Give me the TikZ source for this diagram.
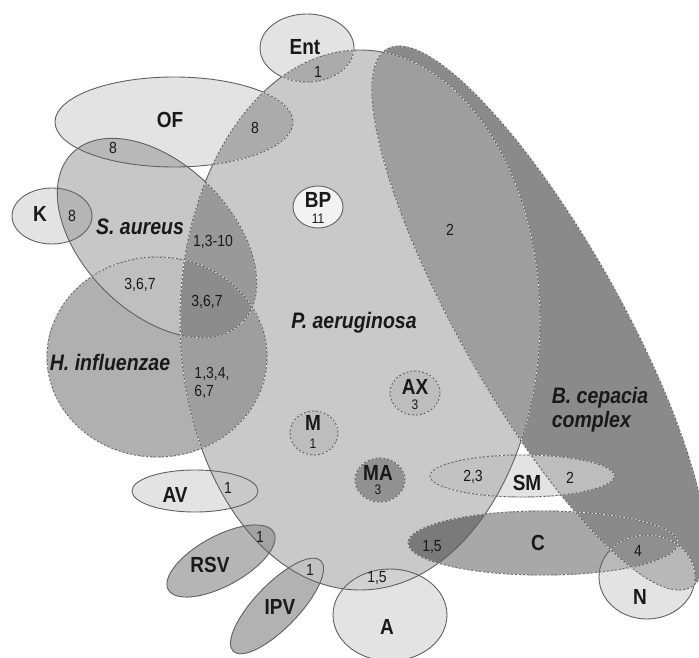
\documentclass[tikz,border=0pt]{standalone}
\usepackage{fontspec}
\setmainfont{Liberation Sans}
% outlines of the sets, in pixel units (y grows downwards)
\newcommand\shPaer{(360,320) ellipse [x radius=180, y radius=270]}
\newcommand\shBcep{(539,318) ellipse [x radius=91, y radius=272, xslant=-0.515]}
\newcommand\shSaur{(157,238) ellipse [x radius=120, y radius=74, rotate=-45]}
\newcommand\shHinf{(157,357) ellipse [x radius=110, y radius=100]}
\newcommand\shEnt{(307,48) ellipse [x radius=47, y radius=34]}
\newcommand\shOF{(174,122) ellipse [x radius=119, y radius=45]}
\newcommand\shK{(52,216) ellipse [x radius=40, y radius=28]}
\newcommand\shAV{(195,491) ellipse [x radius=63, y radius=21]}
\newcommand\shRSV{(221,561) ellipse [x radius=60, y radius=25, rotate=28.5]}
\newcommand\shIPV{(277,606) ellipse [x radius=63, y radius=22, rotate=46]}
\newcommand\shA{(390,615) ellipse [x radius=57, y radius=46]}
\newcommand\shSM{(522,476) ellipse [x radius=92, y radius=21]}
\newcommand\shC{(543,543) ellipse [x radius=135, y radius=32]}
\newcommand\shN{(647,577) ellipse [x radius=48, y radius=42]}
\newcommand\shBP{(318,207) ellipse [x radius=25, y radius=21]}
\newcommand\shAX{(415,393) ellipse [x radius=25, y radius=22]}
\newcommand\shM{(314,433) ellipse [x radius=24, y radius=22]}
\newcommand\shMA{(380,480) ellipse [x radius=25, y radius=22]}
\begin{document}
\begin{tikzpicture}[x=1pt,y=-1pt,
edge/.style={draw=black!62,line width=0.9pt},
seam/.style={draw=white,line width=0.6pt,dash pattern=on 2pt off 2pt},
txt/.style={inner sep=0pt,text=black!90,yscale=1.15,transform shape},
lbl/.style={txt,font=\bfseries\fontsize{19}{19}\selectfont},
num/.style={txt,font=\fontsize{14}{16}\selectfont},
sub/.style={txt,font=\fontsize{12}{12}\selectfont},
spc/.style={txt,font=\bfseries\itshape\fontsize{19.5}{21}\selectfont},
]
\path[fill=white,use as bounding box] (0,0) rectangle (699,658);
% single sets
\fill[black!21]\shPaer;
\fill[black!46]\shBcep;
\fill[black!31]\shHinf;
\fill[black!22]\shSaur;
\foreach \s in {\shEnt,\shOF,\shK,\shAV,\shA,\shSM,\shN}{\fill[black!11]\s;}
\fill[black!29]\shRSV;
\fill[black!30]\shIPV;
\fill[black!34]\shC;
% overlaps
\begin{scope}\clip\shSaur;
\fill[black!28]\shOF;
\fill[black!29]\shK;
\fill[black!25]\shHinf;
\end{scope}
\begin{scope}\clip\shC;\fill[black!27]\shN;\end{scope}
\begin{scope}\clip\shBcep;
\fill[black!26]\shSM;
\fill[black!46]\shC;
\fill[black!28]\shN;
\begin{scope}\clip\shC;\fill[black!44]\shN;\end{scope}
\end{scope}
\begin{scope}\clip\shPaer;
\fill[black!38]\shBcep;
\fill[black!33]\shEnt;
\fill[black!33]\shOF;
\fill[black!40]\shSaur;
\fill[black!38]\shHinf;
\fill[black!21]\shAV;
\fill[black!36]\shRSV;
\fill[black!24]\shIPV;
\fill[black!18]\shA;
\fill[black!24]\shSM;
\fill[black!52]\shC;
\begin{scope}\clip\shSaur;\fill[black!45]\shHinf;\end{scope}
\end{scope}
\fill[black!5]\shBP;
\fill[black!26]\shAX;
\fill[black!26]\shM;
\fill[black!43]\shMA;
% outlines
\foreach \s in {\shPaer,\shBcep,\shHinf,\shSaur,\shEnt,\shOF,\shK,\shAV,\shRSV,\shIPV,\shA,\shSM,\shC,\shN,\shBP,\shAX,\shM,\shMA}{\draw[edge]\s;}
\foreach \s in {\shBcep,\shHinf,\shSM,\shC,\shAX,\shM,\shMA}{\draw[seam]\s;}
\begin{scope}\clip\shPaer;\foreach \s in {\shEnt,\shOF,\shSaur}{\draw[seam]\s;}\end{scope}
\foreach \s in {\shEnt,\shOF,\shSaur,\shHinf,\shBcep}{\begin{scope}\clip\s;\draw[seam]\shPaer;\end{scope}}
\begin{scope}\clip\shBcep;\draw[seam]\shN;\end{scope}
% labels
\node[lbl] (lEnt) at (305,47) {Ent};
\node[num] (nEnt) at (318,72) {1};
\node[lbl] (lOF) at (170,120) {OF};
\node[num] (nOF) at (255,128) {8};
\node[num] (nOFS) at (113,148) {8};
\node[lbl] (lK) at (40,214) {K};
\node[num] (nK) at (72,216) {8};
\node[spc] (lSaur) at (140,227) {S. aureus};
\node[num] (nSaur) at (213,242) {1,3-10};
\node[lbl] (lBP) at (318,200) {BP};
\node[sub] (nBP) at (318,219) {11};
\node[num] (nSH) at (140,285) {3,6,7};
\node[num] (nSHP) at (207,302) {3,6,7};
\node[spc] (lHinf) at (110,362) {H. influenzae};
\node[num,align=left] (nHinf) at (212,383) {1,3,4,\\6,7};
\node[spc] (lPaer) at (354,323) {P. aeruginosa};
\node[num] (nBcep) at (450,230) {2};
\node[lbl] (lAX) at (415,387) {AX};
\node[sub] (nAX) at (415,405) {3};
\node[spc,align=left] (lBcep) at (600,410) {B. cepacia\\complex};
\node[lbl] (lM) at (313,423) {M};
\node[sub] (nM) at (313,444) {1};
\node[lbl] (lMA) at (378,473) {MA};
\node[sub] (nMA) at (378,490) {3};
\node[lbl] (lAV) at (175,495) {AV};
\node[num] (nAV) at (228,488) {1};
\node[num] (nSMP) at (473,477) {2,3};
\node[lbl] (lSM) at (527,483) {SM};
\node[num] (nSMB) at (570,478) {2};
\node[lbl] (lC) at (538,543) {C};
\node[num] (nC) at (432,547) {1,5};
\node[lbl] (lN) at (640,597) {N};
\node[num] (nN) at (638,551) {4};
\node[lbl] (lRSV) at (210,565) {RSV};
\node[num] (nRSV) at (260,537) {1};
\node[lbl] (lIPV) at (280,607) {IPV};
\node[num] (nIPV) at (310,570) {1};
\node[lbl] (lA) at (387,627) {A};
\node[num] (nA) at (377,578) {1,5};
\end{tikzpicture}
\end{document}
